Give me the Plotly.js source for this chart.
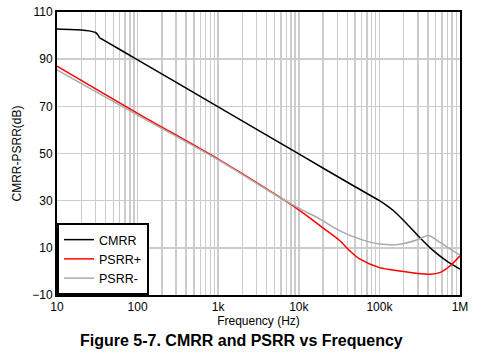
<!DOCTYPE html>
<html>
<head>
<meta charset="utf-8">
<script src="https://cdn.plot.ly/plotly-3.0.1.min.js"></script>
<style>html,body{margin:0;padding:0;background:#fff;}#chart{width:484px;height:356px;}</style>
</head>
<body>
<div id="chart"></div>
<script>
var cmrrFreq = [10, 20, 25, 30, 32, 34, 37, 100, 1000, 10000, 50000, 100000, 130000, 150000, 220000, 316000, 470000, 680000, 1000000];
var cmrrDb   = [102.8, 102.4, 102.0, 101.3, 100.4, 99.0, 98.3, 89.7, 69.8, 49.8, 35.9, 30.0, 27.4, 25.7, 20.1, 14.4, 8.7, 4.5, 1.0];

var psrrPFreq = [10, 100, 1000, 5850, 10400, 18300, 32400, 43000, 57500, 101000, 180000, 300000, 430000, 560000, 750000, 1000000];
var psrrPDb   = [87.0, 67.0, 47.6, 31.4, 25.7, 19.4, 13.0, 8.7, 5.2, 1.6, 0.2, -0.9, -1.2, -0.5, 2.3, 6.6];

var psrrMFreq = [10, 100, 1000, 5850, 10400, 18300, 32400, 57500, 101000, 180000, 290000, 405000, 565000, 955000, 1000000];
var psrrMDb   = [85.5, 66.3, 47.3, 31.3, 26.5, 22.2, 17.2, 13.7, 11.6, 11.5, 13.3, 15.2, 12.3, 7.3, 7.0];

var xTickVals = [10, 100, 1000, 10000, 100000, 1000000];
var xTickText = ['10', '100', '1k', '10k', '100k', '1M'];
var yTickVals = [-10, 10, 30, 50, 70, 90, 110];

var FONT = 'Liberation Sans, Arial, sans-serif';

var traces = [
  {x: cmrrFreq, y: cmrrDb, name: 'CMRR', mode: 'lines', line: {color: '#000000', width: 1.5, shape: 'spline', smoothing: 0.6}},
  {x: psrrPFreq, y: psrrPDb, name: 'PSRR+', mode: 'lines', line: {color: '#ff0000', width: 1.5, shape: 'spline', smoothing: 0.9}},
  {x: psrrMFreq, y: psrrMDb, name: 'PSRR-', mode: 'lines', line: {color: '#aaaaaa', width: 1.5, shape: 'spline', smoothing: 0.8}}
];

var layout = {
  width: 484, height: 356,
  margin: {l: 57, r: 24, t: 12, b: 61},
  paper_bgcolor: '#ffffff', plot_bgcolor: '#ffffff',
  font: {family: FONT, size: 12, color: '#000000'},
  showlegend: true,
  legend: {x: 0, y: 0, xanchor: 'left', yanchor: 'bottom', bgcolor: '#ffffff', bordercolor: '#000000', borderwidth: 2,
           font: {family: FONT, size: 12.5, color: '#000000'}, tracegroupgap: 0},
  xaxis: {
    type: 'log', range: [1, 6],
    tickvals: xTickVals, ticktext: xTickText,
    showgrid: true, gridcolor: '#cccccc', gridwidth: 1.5,
    minor: {dtick: 'D1', showgrid: true, gridcolor: '#cccccc', gridwidth: 1.5, ticks: ''},
    showline: true, linecolor: '#000000', linewidth: 2, mirror: true,
    ticks: '', zeroline: false,
    tickfont: {family: FONT, size: 12, color: '#000000'},
    title: {text: 'Frequency (Hz)', font: {family: FONT, size: 12, color: '#000000'}, standoff: 1}
  },
  yaxis: {
    range: [-10, 110], tickvals: yTickVals,
    showgrid: true, gridcolor: '#cccccc', gridwidth: 1.5,
    showline: true, linecolor: '#000000', linewidth: 2, mirror: true,
    ticks: '', zeroline: false,
    tickfont: {family: FONT, size: 12, color: '#000000'},
    title: {text: 'CMRR-PSRR(dB)', font: {family: FONT, size: 12, color: '#000000'}, standoff: 8}
  },
  annotations: [{
    text: '<b>Figure 5-7. CMRR and PSRR vs Frequency</b>',
    xref: 'paper', yref: 'paper', x: 0.458, y: -0.1625, xanchor: 'center', yanchor: 'middle',
    showarrow: false, font: {family: FONT, size: 16, color: '#000000'}
  }]
};

Plotly.newPlot('chart', traces, layout, {displayModeBar: false, staticPlot: true});
</script>
</body>
</html>
